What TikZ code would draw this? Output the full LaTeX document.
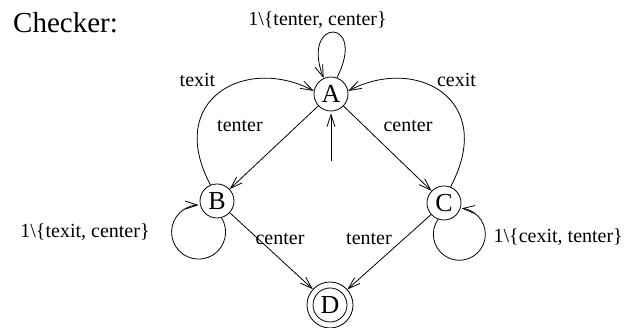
\documentclass[tikz,border=0pt]{standalone}
\usepackage{fontspec}
\setmainfont{Liberation Serif}
\usetikzlibrary{arrows.meta}
\begin{document}
\begin{tikzpicture}[x=1pt,y=1pt,
  state/.style={circle,draw,line width=0.8pt,minimum size=34pt,inner sep=0pt,
    font=\fontsize{26}{26}\selectfont},
  final/.style={state,minimum size=46pt},
  edge/.style={draw,line width=0.8pt,-{Straight Barb[length=12pt,width=8pt]}},
  lbl/.style={anchor=base,inner sep=0pt,font=\fontsize{20}{20}\selectfont}]
\useasboundingbox (0,0) rectangle (625,-328);

\node[anchor=base west,inner sep=0pt,font=\fontsize{29}{29}\selectfont] (title) at (13,-33) {Checker:};

% states
\node[state] (A) at (331,-94) {A};
\node[state] (B) at (217,-201) {B};
\node[state] (C) at (444,-203) {C};
\node[final] (D) at (330,-305) {D};
\draw[line width=0.8pt] (D.center) circle[radius=17];

% initial arrow
\coordinate (init) at (331,-161);
\draw[edge,shorten >=2pt] (init) -- (A);

% transitions
\draw[edge] (A.70) .. controls (368,-17) and (300,-17) .. (A.115);
\draw[edge] (A) -- (B);
\draw[edge] (A) -- (C);
\draw[edge] (B.112) .. controls (165,-100) and (245,-55) .. (A.170);
\draw[edge] (C.68) .. controls (497,-100) and (417,-55) .. (A.10);
\draw[edge] (B) -- (D);
\draw[edge] (C) -- (D);
\draw[edge] (B.-75) arc[start angle=32,end angle=-270,radius=27];
\draw[edge] (C.-110) arc[start angle=145,end angle=445,radius=26];

% labels
\node[lbl] (lA) at (317.5,-26) {1\textbackslash\{tenter, center\}};
\node[lbl] (ltexit) at (197.5,-87) {texit};
\node[lbl] (lAB) at (240,-132) {tenter};
\node[lbl] (lcexit) at (456.5,-87) {cexit};
\node[lbl] (lAC) at (408,-132) {center};
\node[lbl] (lB) at (85,-238) {1\textbackslash\{texit, center\}};
\node[lbl] (lBD) at (280,-245) {center};
\node[lbl] (lCD) at (369,-245) {tenter};
\node[lbl,anchor=base east] (lC) at (623,-243) {1\textbackslash\{cexit, tenter\}};
\end{tikzpicture}
\end{document}
